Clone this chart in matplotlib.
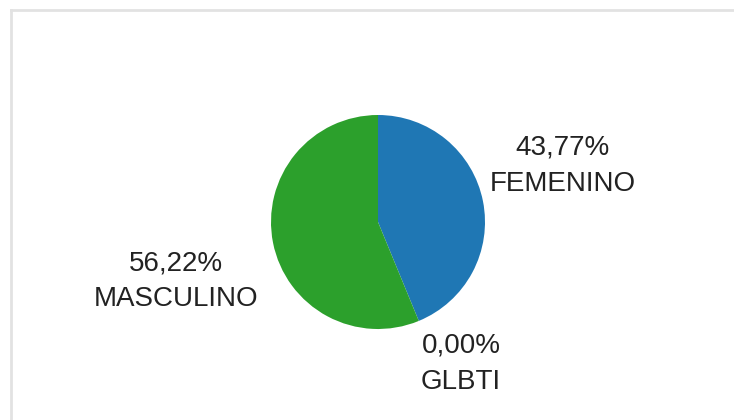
import matplotlib
matplotlib.use("Agg")
import matplotlib.pyplot as plt
from matplotlib.lines import Line2D

categories = ["FEMENINO", "GLBTI", "MASCULINO"]
values = [43.77, 0.00, 56.22]
colors = ["#1f77b4", "#d62728", "#2ca02c"]

W, H = 734, 420
fig = plt.figure(figsize=(W / 100, H / 100), dpi=100)
ax = fig.add_axes([0, 0, 1, 1])

wedges, _ = ax.pie(values, colors=colors, startangle=90, counterclock=False,
                   center=(378, H - 222), radius=107,
                   wedgeprops=dict(linewidth=0))
ax.set_xlim(0, W)
ax.set_ylim(0, H)
ax.set_aspect("equal")
ax.axis("off")

# label anchor positions (pixels, top-origin)
label_pos = {"FEMENINO": (563, 166), "GLBTI": (461, 364), "MASCULINO": (176, 281)}
for name, v in zip(categories, values):
    x, y = label_pos[name]
    txt = f"{v:.2f}".replace(".", ",") + "%\n" + name
    ax.text(x, H - y, txt, ha="center", va="center", fontsize=20,
            family=["Liberation Sans", "DejaVu Sans"], color="#222222",
            linespacing=1.5)

# light frame (top & left edges visible)
fig.add_artist(Line2D([10.5 / W, 1.0], [1 - 9.5 / H, 1 - 9.5 / H],
                      transform=fig.transFigure, color="#e2e2e2", lw=2))
fig.add_artist(Line2D([10.5 / W, 10.5 / W], [0, 1 - 9.5 / H],
                      transform=fig.transFigure, color="#e2e2e2", lw=2))

fig.savefig("out.png", dpi=100)
